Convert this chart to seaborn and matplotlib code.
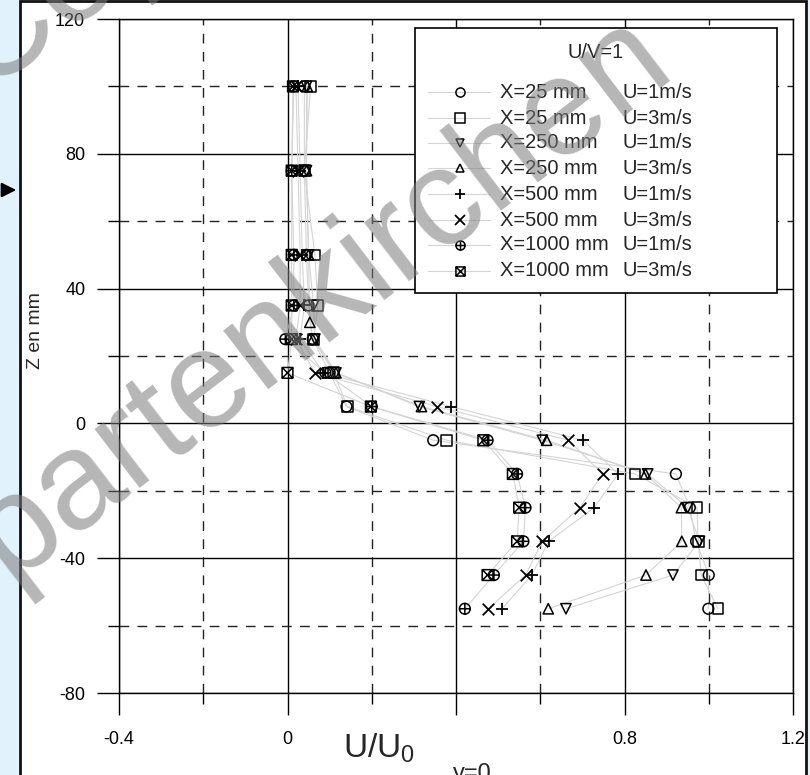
import numpy as np
import pandas as pd
import matplotlib
matplotlib.use("Agg")
import matplotlib.pyplot as plt
import seaborn as sns
from matplotlib.path import Path
from matplotlib.lines import Line2D
from matplotlib.patches import Rectangle, FancyArrowPatch

# ---------------- data ----------------
z_levels = [100, 75, 50, 35, 25, 15, 5, -5, -15, -25, -35, -45, -55]
z_levels_x250_u3 = [100, 75, 50, 30, 25, 15, 5, -5, -15, -25, -35, -45, -55]
z_levels_x1000_u3 = [100, 75, 50, 35, 25, 15, 5, -5, -15, -25, -35, -45]

u_x25_u1 = [0.040, 0.040, 0.045, 0.050, 0.060, 0.100, 0.140, 0.346, 0.922, 0.955, 0.970, 1.000, 0.999]
u_x25_u3 = [0.055, 0.040, 0.065, 0.072, 0.062, 0.110, 0.142, 0.378, 0.825, 0.972, 0.975, 0.982, 1.022]
u_x250_u1 = [0.045, 0.045, 0.050, 0.062, 0.065, 0.115, 0.313, 0.605, 0.855, 0.950, 0.978, 0.915, 0.661]
u_x250_u3 = [0.047, 0.045, 0.050, 0.053, 0.060, 0.115, 0.318, 0.615, 0.850, 0.935, 0.936, 0.851, 0.619]
u_x500_u1 = [0.025, 0.030, 0.035, 0.040, 0.030, 0.085, 0.388, 0.702, 0.785, 0.728, 0.620, 0.580, 0.509]
u_x500_u3 = [0.020, 0.025, 0.030, 0.030, 0.020, 0.065, 0.355, 0.667, 0.748, 0.694, 0.605, 0.565, 0.477]
u_x1000_u1 = [0.015, 0.010, 0.015, 0.015, -0.005, 0.090, 0.200, 0.475, 0.545, 0.565, 0.560, 0.490, 0.421]
u_x1000_u3 = [0.013, 0.010, 0.010, 0.010, 0.010, 0.000, 0.198, 0.465, 0.535, 0.550, 0.545, 0.475]

positions = ["X=25 mm", "X=25 mm", "X=250 mm", "X=250 mm",
             "X=500 mm", "X=500 mm", "X=1000 mm", "X=1000 mm"]
speeds = ["U=1m/s", "U=3m/s", "U=1m/s", "U=3m/s",
          "U=1m/s", "U=3m/s", "U=1m/s", "U=3m/s"]
legend_title = "U/V=1"

x_ticks = [-0.4, 0.0, 0.4, 0.8, 1.2]
x_ticklabels = ["-0.4", "0", "", "0.8", "1.2"]
x_minor = [-0.2, 0.2, 0.6, 1.0]
y_ticks = [-80, -40, 0, 40, 80, 120]
y_ticklabels = ["-80", "-40", "0", "40", "80", "120"]
y_minor = [-60, -20, 20, 60, 100]

series_u = [u_x25_u1, u_x25_u3, u_x250_u1, u_x250_u3,
            u_x500_u1, u_x500_u3, u_x1000_u1, u_x1000_u3]
series_z = [z_levels, z_levels, z_levels, z_levels_x250_u3,
            z_levels, z_levels, z_levels, z_levels_x1000_u3]

rows = []
for i, (us, zs) in enumerate(zip(series_u, series_z)):
    for k, (u, z) in enumerate(zip(us, zs)):
        rows.append({"sid": i, "order": k, "u": u, "z": z})
df = pd.DataFrame(rows)

# ---------------- markers ----------------
circ = Path.unit_circle()
plus_p = Path([[-1, 0], [1, 0], [0, -1], [0, 1]],
              [Path.MOVETO, Path.LINETO, Path.MOVETO, Path.LINETO])
oplus = Path.make_compound_path(circ, plus_p)
sq = Path([[-1, -1], [1, -1], [1, 1], [-1, 1], [-1, -1]],
          [Path.MOVETO, Path.LINETO, Path.LINETO, Path.LINETO, Path.CLOSEPOLY])
diag = Path([[-1, -1], [1, 1], [-1, 1], [1, -1]],
            [Path.MOVETO, Path.LINETO, Path.MOVETO, Path.LINETO])
boxtimes = Path.make_compound_path(sq, diag)

markers = ["o", "s", "v", "^", "+", "x", oplus, boxtimes]
sizes = [60, 60, 55, 55, 80, 70, 60, 60]
line_like = [False, False, False, False, True, True, False, False]

# ---------------- figure ----------------
sns.set_theme(style="white")
plt.rcParams["font.family"] = ["Liberation Sans", "DejaVu Sans"]
plt.rcParams["mathtext.fontset"] = "custom"
plt.rcParams["mathtext.rm"] = "Liberation Sans"
plt.rcParams["mathtext.it"] = "Liberation Sans"

W, H = 810, 775
fig = plt.figure(figsize=(W / 100, H / 100), dpi=100)
fig.patch.set_facecolor("#e1f2fc")


def fx(x):
    return x / W


def fy(y):
    return 1 - y / H


panel = Rectangle((fx(20), fy(900)), fx(806) - fx(20), fy(1) - fy(900),
                  transform=fig.transFigure, facecolor="white",
                  edgecolor="#111111", lw=2, zorder=-5)
fig.patches.append(panel)

ax = fig.add_axes([fx(119), fy(693), fx(793) - fx(119), fy(19) - fy(693)])
ax.set_zorder(1)
ax.set_facecolor("white")

# gray connecting lines
for i in range(8):
    sub = df[df.sid == i]
    sns.lineplot(data=sub, x="u", y="z", sort=False, estimator=None,
                 color="#d4d4d4", lw=0.8, ax=ax, zorder=2)

# markers
for i in range(8):
    sub = df[df.sid == i]
    if line_like[i]:
        sns.scatterplot(data=sub, x="u", y="z", marker=markers[i], s=sizes[i],
                        color="black", linewidth=1.3, ax=ax, zorder=4)
    else:
        sns.scatterplot(data=sub, x="u", y="z", marker=markers[i], s=sizes[i],
                        facecolor="none", edgecolor="black", linewidth=1.1,
                        ax=ax, zorder=4)

ax.set_xlim(-0.4, 1.2)
ax.set_ylim(-80, 120)
ax.set_xticks(x_ticks)
ax.set_xticklabels(x_ticklabels)
ax.set_xticks(x_minor, minor=True)
ax.set_yticks(y_ticks)
ax.set_yticklabels(y_ticklabels)
ax.set_yticks(y_minor, minor=True)
ax.set_xlabel("")
ax.set_ylabel("")

ax.set_axisbelow(True)
ax.grid(which="major", color="black", lw=1.0, ls="-")
ax.grid(which="minor", color="#222222", lw=1.0, ls=(0, (7, 6)))
for sp in ax.spines.values():
    sp.set_color("black")
    sp.set_linewidth(1.0)

ax.tick_params(which="both", bottom=True, left=True, top=False, right=False)
ax.tick_params(which="major", direction="out", length=15.8, width=1,
               color="black", labelsize=13, labelcolor="black")
ax.tick_params(which="minor", direction="out", length=8, width=1, color="black")
ax.tick_params(axis="y", which="major", pad=8.5)
ax.tick_params(axis="x", which="major", pad=11.5)

# axis titles
fig.text(fx(343), fy(758), "U/U$_0$", fontsize=24, ha="left", va="baseline")
fig.text(fx(472), fy(763), "y=0", fontsize=17, ha="center", va="top")
fig.text(fx(35), fy(331), "Z en mm", fontsize=14, rotation=90,
         ha="center", va="center")

# ---------------- legend (drawn manually, two text columns) ----------------
box = Rectangle((fx(415), fy(293)), fx(777) - fx(415), fy(28) - fy(293),
                transform=fig.transFigure, facecolor="white",
                edgecolor="black", lw=1.2, zorder=5)
fig.patches.append(box)
fig.text(fx(596), fy(53), legend_title, fontsize=14.5, ha="center",
         va="center", zorder=6)
row_y = [92, 118, 143, 168, 194, 220, 245, 271]
for i in range(8):
    y = fy(row_y[i])
    fig.add_artist(Line2D([fx(428), fx(490)], [y, y], color="#d4d4d4",
                          lw=0.8, transform=fig.transFigure, zorder=6))
    ms = np.sqrt(sizes[i]) * 0.85
    if line_like[i]:
        mk = Line2D([fx(460)], [y], marker=markers[i], color="black", ms=ms,
                    mew=1.3, ls="none", transform=fig.transFigure, zorder=7)
    else:
        mk = Line2D([fx(460)], [y], marker=markers[i], mfc="none", mec="black",
                    ms=ms, mew=1.1, ls="none", transform=fig.transFigure,
                    zorder=7)
    fig.add_artist(mk)
    fig.text(fx(500), y, positions[i], fontsize=14.5, ha="left",
             va="center", zorder=7)
    fig.text(fx(623), y, speeds[i], fontsize=14.5, ha="left",
             va="center", zorder=7)

# left arrow
fig.add_artist(FancyArrowPatch(
    (fx(0), fy(190)), (fx(19), fy(190)), transform=fig.transFigure,
    arrowstyle="-|>", mutation_scale=22, color="black", lw=1.5, zorder=8))

# watermark
fig.text(fx(8), fy(582), "partenkirchen", fontsize=100, rotation=37.5,
         rotation_mode="anchor", ha="left", va="baseline",
         color="#7a7a7a", alpha=0.55, zorder=10)
fig.text(fx(-15), fy(92), "Copyright", fontsize=100, rotation=37.5,
         rotation_mode="anchor", ha="left", va="baseline",
         color="#7a7a7a", alpha=0.55, zorder=10)

fig.savefig("out.png", dpi=100, facecolor=fig.get_facecolor())
